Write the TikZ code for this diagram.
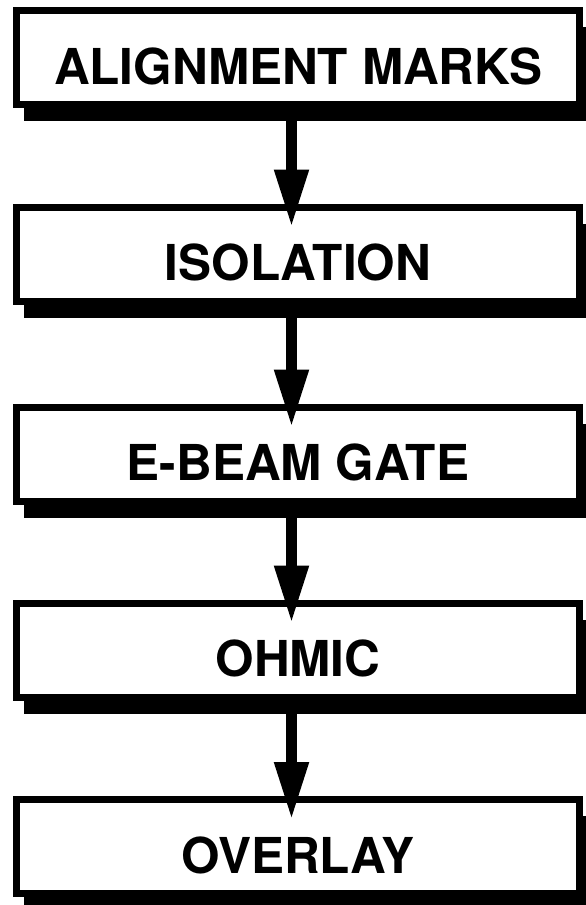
\documentclass[tikz,border=0pt]{standalone}
\usepackage{fontspec}
\setmainfont{TeX Gyre Heros}
\usetikzlibrary{arrows.meta,shadows,calc}

\tikzset{
  stepbox/.style={
    draw=black, fill=white, line width=7pt, rectangle,
    minimum width=563pt, minimum height=94pt, inner sep=0pt,
    text height=53pt, text depth=0pt,
    font=\bfseries\fontsize{49.5}{52}\selectfont,
    drop shadow={shadow xshift=7.5pt, shadow yshift=-16.5pt,
                 fill=black, opacity=1}
  },
  flowarrow/.style={
    draw=black, line width=11pt,
    -{Triangle[width=32pt,length=58pt]}
  }
}

\begin{document}
\begin{tikzpicture}[x=1pt,y=-1pt]
  \clip (0,0) rectangle (586,905);
  \fill[white] (0,0) rectangle (586,905);

  % process steps
  \node[stepbox] (b1) at (298,57.5) {ALIGNMENT MARKS};
  \node[stepbox] (b2) at (298,254)  {ISOLATION};
  \node[stepbox] (b3) at (298,454)  {E-BEAM GATE};
  \node[stepbox] (b4) at (298,650)  {OHMIC};
  \node[stepbox] (b5) at (298,846.5){OVERLAY};

  % arrow tips reach into the next box
  \coordinate (t2) at ([xshift=-6.5pt,yshift=-24pt]b2.north);
  \coordinate (t3) at ([xshift=-6.5pt,yshift=-24pt]b3.north);
  \coordinate (t4) at ([xshift=-6.5pt,yshift=-24pt]b4.north);
  \coordinate (t5) at ([xshift=-6.5pt,yshift=-24pt]b5.north);

  \draw[flowarrow] ([xshift=-6.5pt]b1.south) -- (t2);
  \draw[flowarrow] ([xshift=-6.5pt]b2.south) -- (t3);
  \draw[flowarrow] ([xshift=-6.5pt]b3.south) -- (t4);
  \draw[flowarrow] ([xshift=-6.5pt]b4.south) -- (t5);
\end{tikzpicture}
\end{document}
